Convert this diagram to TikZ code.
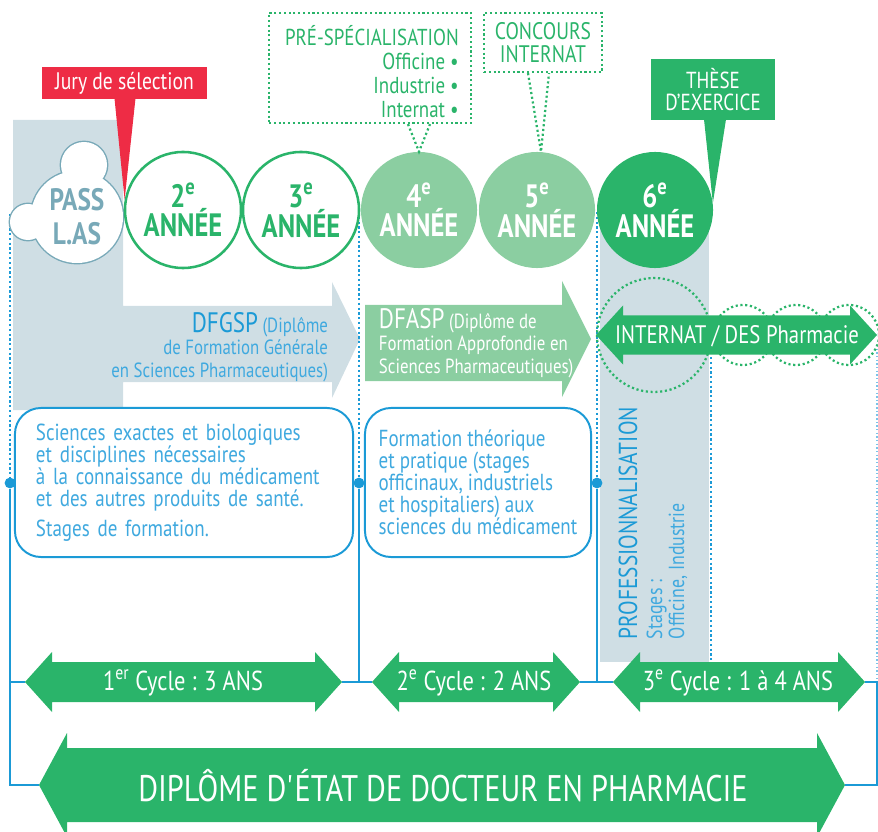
\documentclass[tikz,border=0pt]{standalone}
\usepackage{fontspec}
\setmainfont{PT Sans}[FakeStretch=0.82]
\usetikzlibrary{calc}

\definecolor{pgreen}{HTML}{2AB46A}
\definecolor{lgreen}{HTML}{8BCEA1}
\definecolor{jred}{HTML}{EE2C45}
\definecolor{fog}{HTML}{CFDEE4}
\definecolor{pblue}{HTML}{1B9AD6}
\definecolor{tblue}{HTML}{3FA9DF}
\definecolor{slate}{HTML}{78A9B8}

\newcommand{\fsz}[2]{\fontsize{#1}{#2}\selectfont}
% double fleche : nom, couleur, x gauche, x droite, y, demi-corps, demi-tete, longueur tete
\newcommand{\dblarrow}[8]{%
  \fill[#2] (#3,#5) -- (#3+#8,#5-#7) -- (#3+#8,#5-#6) -- (#4-#8,#5-#6) -- (#4-#8,#5-#7)
    -- (#4,#5) -- (#4-#8,#5+#7) -- (#4-#8,#5+#6) -- (#3+#8,#5+#6) -- (#3+#8,#5+#7) -- cycle;
  \coordinate (#1 l) at (#3,#5);
  \coordinate (#1 r) at (#4,#5);}

\begin{document}
\begin{tikzpicture}[x=0.025cm,y=-0.025cm,
  year node/.style={circle,minimum size=2.9cm,inner sep=0pt,align=center,font=\fsz{23}{20}\bfseries},
  open year/.style={year node,draw=pgreen,line width=1.8pt,fill=white,text=pgreen},
  full year/.style={year node,fill=#1,text=white},
  green dots/.style={draw=pgreen,line width=1.6pt,dash pattern=on 1.5pt off 1.9pt},
  blue dots/.style={draw=pblue,line width=1.8pt,dash pattern=on 1.6pt off 1.8pt},
  blue line/.style={draw=pblue,line width=1.4pt},
  course box/.style={draw=pblue,line width=1.4pt,fill=white,rounded corners=0.65cm,align=left,
    text=tblue,font=\fsz{16.5}{15.6},minimum height=3.725cm,inner ysep=0pt},
  cycle text/.style={text=white,font=\fsz{19.5}{20}},
  joint/.style={circle,fill=pblue,inner sep=0pt,minimum size=0.27cm}]

\useasboundingbox (0,0) rectangle (878,832);

% fonds
\fill[fog] (13,120) -- (123,120) -- (123,306) -- (332,306) -- (332,282) -- (360,339) -- (332,398)
  -- (332,382) -- (123,382) -- (123,410) -- (13,410) -- cycle;
\fill[fog] (600,215) rectangle (709,662);
\fill[lgreen] (365,305) -- (562,305) -- (562,281) -- (591,339) -- (562,397) -- (562,381) -- (365,381) -- cycle;

% reperes bleus
\coordinate (t1) at (10,214);
\coordinate (t2) at (359,212);
\coordinate (t3) at (597,212);
\node[joint] (j1) at (10,483) {};
\node[joint] (j2) at (359,483) {};
\node[joint] (j3) at (597,483) {};
\draw[blue dots] (t1) -- (j1);
\draw[blue dots] (t2) -- (j2);
\draw[blue dots] (t3) -- (j3);
\coordinate (p1) at (711,357);
\coordinate (p2) at (711,660);
\draw[blue dots] (p1) -- (p2);
\coordinate (r1) at (877,345);
\coordinate (r2) at (877,682);
\draw[blue dots,draw=tblue!70,line width=1pt,dash pattern=on 1pt off 1.6pt] (r1) -- (r2);

% internat
\draw[green dots] (654,335) circle (57);
\foreach \x in {743,796,849}
  \draw[green dots] (\x,335) circle (30);
\dblarrow{des}{pgreen}{596}{877}{335}{19.5}{29.5}{27}
\node[text=white,font=\fsz{18}{17}] (internat) at (737,336) {INTERNAT / DES Pharmacie};

% annees
\foreach \cx/\cy/\r in {77/217/46,84/165/23,28/222/18}
  \draw[slate,line width=2pt] (\cx,\cy) circle (\r);
\foreach \cx/\cy/\r in {77/217/46,84/165/23,28/222/18}
  \fill[white] (\cx,\cy) circle (\r);
\node[text=slate,align=center,font=\fsz{22}{24}\bfseries] (pass) at (77,217) {PASS\\L.AS};
\node[open year] (y2) at (183,210) {2\textsuperscript{e}\\ANNÉE};
\node[open year] (y3) at (301,210) {3\textsuperscript{e}\\ANNÉE};
\node[full year=lgreen] (y4) at (419,210) {4\textsuperscript{e}\\ANNÉE};
\node[full year=lgreen] (y5) at (537,210) {5\textsuperscript{e}\\ANNÉE};
\node[full year=pgreen] (y6) at (655,210) {6\textsuperscript{e}\\ANNÉE};

% bulles
\node[fill=jred,text=white,minimum width=4.125cm,minimum height=0.8cm,font=\fsz{17}{14}] (jury) at (124.5,83) {Jury de sélection};
\fill[jred] ($(jury.south)+(-10,-1)$) -- ($(jury.south)+(11,-1)$) -- (y2.170) -- cycle;

\node[green dots,minimum width=5.05cm,minimum height=2.75cm] (pre) at (370,68) {};
\node[anchor=north east,align=right,text=pgreen,font=\fsz{16.4}{17},inner sep=0pt] (pretext) at (459,25)
  {PRÉ-SPÉCIALISATION\\Officine •\\Industrie •\\Internat •};
\draw[green dots] ($(y4.north |- pre.south)+(-11,0)$) -- (y4.north) -- ($(y4.north |- pre.south)+(11,0)$);

\node[green dots,text=pgreen,minimum width=2.95cm,minimum height=1.475cm,align=center,font=\fsz{17}{16}] (conc) at (543,42.5)
  {CONCOURS\\INTERNAT};
\draw[green dots] ($(y5.north |- conc.south)+(-9,0)$) -- ($(y5.north)+(4,0)$) -- ($(y5.north |- conc.south)+(12,0)$);

\node[fill=pgreen,text=white,minimum width=3.1cm,minimum height=1.525cm,align=center,font=\fsz{16.5}{15.6}] (these) at (713,89.5)
  {THÈSE\\D’EXERCICE};
\fill[pgreen] ($(these.south)+(-9,-1)$) -- ($(these.south)+(13,-1)$) -- (y6.7) -- cycle;

% diplomes
\node[anchor=east,align=right,text=tblue,font=\fsz{14.6}{16}] (dfgsp) at (333,347)
  {{\color{pblue}\fsz{20}{16}DFGSP} (Diplôme\\de Formation Générale\\en Sciences Pharmaceutiques)};
\node[anchor=west,align=left,text=white,font=\fsz{14.6}{16}] (dfasp) at (374,343)
  {{\fsz{20}{16}DFASP} (Diplôme de\\Formation Approfondie en\\Sciences Pharmaceutiques)};

\node[course box,text width=7.4cm,inner xsep=0.525cm] (b1) at (184,482.5)
  {Sciences exactes et biologiques\\et disciplines nécessaires\\à la connaissance du médicament\\et des autres produits de santé.\\[0.2cm]Stages de formation.};
\node[course box,minimum width=5.65cm,inner xsep=0pt] (b2) at (478,482.5)
  {Formation théorique\\et pratique (stages\\officinaux, industriels\\et hospitaliers) aux\\sciences du médicament};

\node[rotate=90,anchor=base west,text=pblue,font=\fsz{18.5}{16}] (prof) at (637,644) {PROFESSIONNALISATION};
\node[rotate=90,anchor=base west,text=tblue,font=\fsz{15.5}{14}] (stages) at (662,644) {Stages :};
\node[rotate=90,anchor=base west,text=tblue,font=\fsz{15.5}{14}] (lieux) at (684,644) {Officine, Industrie};

% cycles
\dblarrow{cy1}{pgreen}{25}{342}{682}{20}{30}{27}
\dblarrow{cy2}{pgreen}{372}{580}{682}{20}{30}{27}
\dblarrow{cy3}{pgreen}{613}{865}{682}{20}{30}{27}
\dblarrow{dip}{pgreen}{39}{845}{785}{37}{52}{28}

\draw[blue line] (j1) |- (dip l);
\draw[blue line] (j1 |- cy1 l) -- (cy1 l);
\draw[blue line] (j2) -- (j2 |- cy1 r);
\draw[blue line] (cy1 r) -- (cy2 l);
\draw[blue line] (j3) -- (j3 |- cy2 r);
\draw[blue line] (cy2 r) -- (cy3 l);
\draw[blue line] (cy3 r) -- (r2) |- (dip r);

\node[cycle text] (cycle1) at (183,683) {1\textsuperscript{er} Cycle : 3 ANS};
\node[cycle text] (cycle2) at (474,683) {2\textsuperscript{e} Cycle : 2 ANS};
\node[cycle text] (cycle3) at (738,683) {3\textsuperscript{e} Cycle : 1 à 4 ANS};
\node[text=white,font=\fsz{26.3}{24}] (diplome) at (443,786) {DIPLÔME D\textquotesingle ÉTAT DE DOCTEUR EN PHARMACIE};
\end{tikzpicture}
\end{document}
